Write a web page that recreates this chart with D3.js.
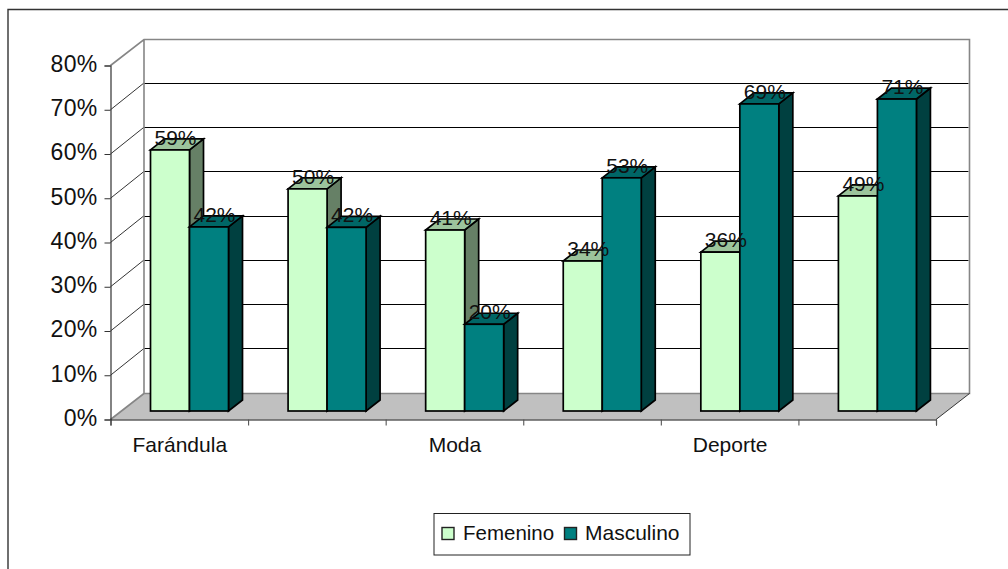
<!DOCTYPE html>
<html><head><meta charset="utf-8">
<script src="https://cdn.jsdelivr.net/npm/d3@7"></script>
<style>html,body{margin:0;padding:0;background:#fff;overflow:hidden}svg{display:block}text{font-family:"Liberation Sans",Arial,sans-serif;fill:#111}</style>
</head><body><svg id="c" width="1008" height="569"></svg>
<script>
const categories=["Farándula","","Moda","","Deporte",""];
const seriesNames=["Femenino","Masculino"];
const femenino=[59,50.2,40.9,33.9,35.9,48.6];
const masculino=[41.6,41.5,19.6,52.7,69.4,70.5];
const yTicks=[0,10,20,30,40,50,60,70,80];
const palette=[{front:"#CCFFCC",top:"#9CC49C",side:"#668066"},{front:"#008080",top:"#006666",side:"#004040"}];

const svg=d3.select("#c");
const X0=110.5,X1=936,Y0=419.5,Y80=65.5,DX=33.5,DY=26;
const x=d3.scaleBand().domain(d3.range(categories.length)).range([X0,X1]);
const y=d3.scaleLinear().domain([0,80]).range([Y0,Y80]);
const poly=(pts)=>pts.map(p=>p.join(",")).join(" ");

// outer frame
svg.append("path").attr("d","M1008,9.5H8V569").attr("fill","none").attr("stroke","#333").attr("stroke-width",1.4);

// wall and floor
svg.append("polygon").attr("points",poly([[X0,Y0],[X0+DX,Y0-DY],[X1+DX,Y0-DY],[X1,Y0]])).attr("fill","#C0C0C0");
svg.append("g").selectAll("line").data(yTicks.filter(d=>d>0&&d<80)).join("line")
  .attr("x1",X0+DX).attr("x2",X1+DX-1).attr("y1",d=>Math.round(y(d)-DY-.8)+.5).attr("y2",d=>Math.round(y(d)-DY-.8)+.5)
  .attr("stroke","#000").attr("stroke-width",1);
svg.append("g").selectAll("line").data(yTicks.filter(d=>d>0&&d<80)).join("line")
  .attr("x1",X0).attr("x2",X0+DX).attr("y1",d=>y(d)).attr("y2",d=>y(d)-DY-.8)
  .attr("stroke","#000").attr("stroke-width",.8);
svg.append("path").attr("d",`M${X0},${Y80}L${X0+DX},${Y80-DY}H${X1+DX}V${Y0-DY}H${X0+DX}V${Y80-DY}M${X0},${Y0}L${X0+DX},${Y0-DY}`)
  .attr("fill","none").attr("stroke","#868686").attr("stroke-width",1.6);
svg.append("line").attr("x1",X1).attr("y1",Y0).attr("x2",X1+DX).attr("y2",Y0-DY).attr("stroke","#222").attr("stroke-width",.9);

// axes
const yAxis=svg.append("g").attr("transform",`translate(${X0},0)`)
  .call(d3.axisLeft(y).tickValues(yTicks).tickSize(6).tickPadding(7).tickFormat(d=>d+"%"));
yAxis.select(".domain").attr("stroke","#333").attr("stroke-width",1.2);
yAxis.selectAll("line").attr("stroke","#333");
yAxis.selectAll("text").attr("font-size",23).attr("dy",".25em").style("font-family","'Liberation Sans',Arial,sans-serif").attr("fill","#111").attr("letter-spacing",.3);

const edge=d3.scaleLinear().domain([0,categories.length]).range([X0,X1]);
const xAxis=svg.append("g").attr("transform",`translate(0,${Y0})`)
  .call(d3.axisBottom(edge).tickValues(d3.range(categories.length+1)).tickSize(6).tickFormat(""));
xAxis.select(".domain").attr("stroke","#111").attr("stroke-width",1.1);
xAxis.selectAll("line").attr("stroke","#555").attr("stroke-width",1.1);
svg.append("g").selectAll("text").data(categories).join("text")
  .attr("x",(d,i)=>x(i)+x.bandwidth()/2+.5).attr("y",452).attr("text-anchor","middle").attr("font-size",21).text(d=>d);

// bars
const BOFFY=8.5,BW=39,SX=14,SY=11,BSTART=40;
const rows=[];
categories.forEach((c,i)=>{
  rows.push({i,s:0,v:femenino[i]});
  rows.push({i,s:1,v:masculino[i]});
});
const left=d=>x(d.i)+BSTART+d.s*BW;
const top_=d=>y(d.v)-BOFFY;
const base=Y0-BOFFY;
const bars=svg.append("g").selectAll("g").data(rows).join("g")
  .attr("stroke","#000").attr("stroke-width",1.7).attr("stroke-linejoin","miter");
bars.append("polygon").attr("fill",d=>palette[d.s].side)
  .attr("points",d=>{const l=left(d)+BW,t=top_(d);return poly([[l,t],[l+SX,t-SY],[l+SX,base-SY],[l,base]]);});
bars.append("polygon").attr("fill",d=>palette[d.s].top)
  .attr("points",d=>{const l=left(d),t=top_(d);return poly([[l,t],[l+SX,t-SY],[l+BW+SX,t-SY],[l+BW,t]]);});
bars.append("rect").attr("fill",d=>palette[d.s].front)
  .attr("x",left).attr("y",top_).attr("width",BW).attr("height",d=>base-top_(d));

// data labels
svg.append("g").selectAll("text").data(rows).join("text")
  .attr("x",d=>left(d)+BW/2+5.5).attr("y",d=>top_(d)-5).attr("text-anchor","middle").attr("font-size",21)
  .text(d=>Math.round(d.v)+"%");

// legend
svg.append("rect").attr("x",434).attr("y",513.5).attr("width",256).attr("height",41.5)
  .attr("fill","#fff").attr("stroke","#222").attr("stroke-width",1);
const legendX=[{sw:442,tx:463,fs:20.5},{sw:564.5,tx:585,fs:21}];
const lg=svg.append("g").selectAll("g").data(seriesNames).join("g");
lg.append("rect").attr("x",(d,i)=>legendX[i].sw).attr("y",527.5).attr("width",12).attr("height",12)
  .attr("fill",(d,i)=>palette[i].front).attr("stroke","#222").attr("stroke-width",1.4);
lg.append("text").attr("x",(d,i)=>legendX[i].tx).attr("y",539.5).attr("font-size",(d,i)=>legendX[i].fs).text(d=>d);
</script></body></html>
